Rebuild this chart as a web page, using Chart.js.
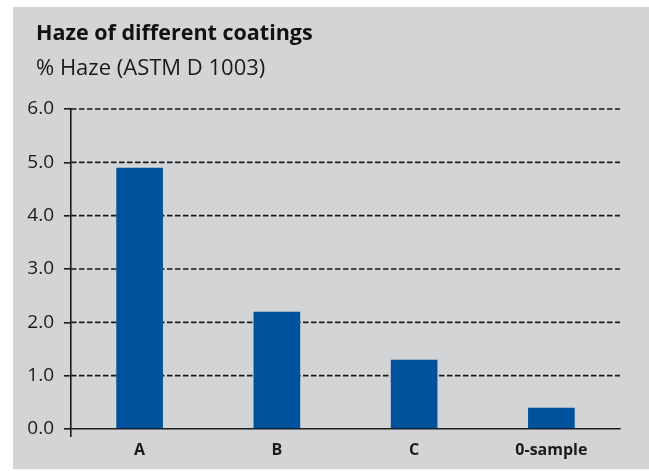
<!DOCTYPE html>
<html>
<head>
<meta charset="utf-8">
<script src="https://cdn.jsdelivr.net/npm/chart.js@4"></script>
<style>
  html, body { margin: 0; padding: 0; background: #ffffff; }
  #panel { position: absolute; left: 13px; top: 7px; width: 636px; height: 462px; background: #d3d4d6; }
  #hazeChart { display: block; }
  .head { position: absolute; left: 23px; margin: 0; white-space: nowrap; color: #111111;
          font-family: 'Open Sans', 'Noto Sans', sans-serif; line-height: 1.2; }
  #title { top: 12px; font-size: 21.5px; font-weight: bold; }
  #subtitle { top: 46px; font-size: 22px; font-weight: normal; color: #1a1a1a; }
</style>
</head>
<body>
<div id="panel">
  <canvas id="hazeChart" width="636" height="462"></canvas>
  <div class="head" id="title"></div>
  <div class="head" id="subtitle"></div>
</div>
<script>
const categories = ['A', 'B', 'C', '0-sample'];
const hazeValues = [4.9, 2.2, 1.3, 0.4];
const yTicks = [0, 1, 2, 3, 4, 5, 6];

const titleText = 'Haze of different coatings';
const subtitleText = '% Haze (ASTM D 1003)';

document.getElementById('title').textContent = titleText;
document.getElementById('subtitle').textContent = subtitleText;

const fontFamily = "'Open Sans', 'Noto Sans', sans-serif";
const ink = '#1a1a1a';

const ctx = document.getElementById('hazeChart');
const hazeChart = new Chart(ctx, {
  type: 'bar',
  data: {
    labels: categories,
    datasets: [{
      label: 'Haze',
      data: hazeValues,
      backgroundColor: '#00529c',
      borderWidth: 0,
      categoryPercentage: 1.0,
      barPercentage: 0.34
    }]
  },
  options: {
    responsive: false,
    animation: false,
    layout: { padding: { left: 12, right: 29, top: 102, bottom: 0 } },
    scales: {
      x: {
        afterFit: (scale) => { scale.height = 40; },
        border: { display: true, color: ink, width: 1.6 },
        grid: {
          drawOnChartArea: false,
          drawTicks: true,
          tickLength: 8,
          lineWidth: 1.6,
          color: (c) => c.index === 0 ? ink : 'rgba(0,0,0,0)'
        },
        ticks: {
          color: ink,
          padding: 4,
          font: { family: fontFamily, size: 16, weight: 'bold' }
        }
      },
      y: {
        min: 0,
        max: 6,
        afterFit: (scale) => { scale.width = 46; },
        afterBuildTicks: (scale) => { scale.ticks = yTicks.map(v => ({ value: v })); },
        border: { display: true, color: ink, width: 1.6 },
        grid: {
          drawOnChartArea: false,
          tickLength: 7,
          tickColor: ink,
          lineWidth: 1.6,
          drawTicks: true
        },
        ticks: {
          color: ink,
          padding: 10,
          font: { family: fontFamily, size: 19 },
          callback: (v) => Number(v).toFixed(1)
        }
      }
    },
    plugins: {
      legend: { display: false },
      tooltip: { enabled: false }
    }
  },
  plugins: [{
    id: 'dashedGrid',
    beforeDatasetsDraw(chart) {
      // dashed horizontal guide lines, drawn behind the bars
      const y = chart.scales.y;
      const area = chart.chartArea;
      const c = chart.ctx;
      c.save();
      c.strokeStyle = ink;
      c.lineWidth = 1.6;
      c.setLineDash([5.5, 2.5]);
      yTicks.forEach(v => {
        if (v === 0) return;
        const py = y.getPixelForValue(v);
        c.beginPath();
        c.moveTo(area.left, py);
        c.lineTo(area.right, py);
        c.stroke();
      });
      c.restore();
    }
  }]
});
</script>
</body>
</html>
